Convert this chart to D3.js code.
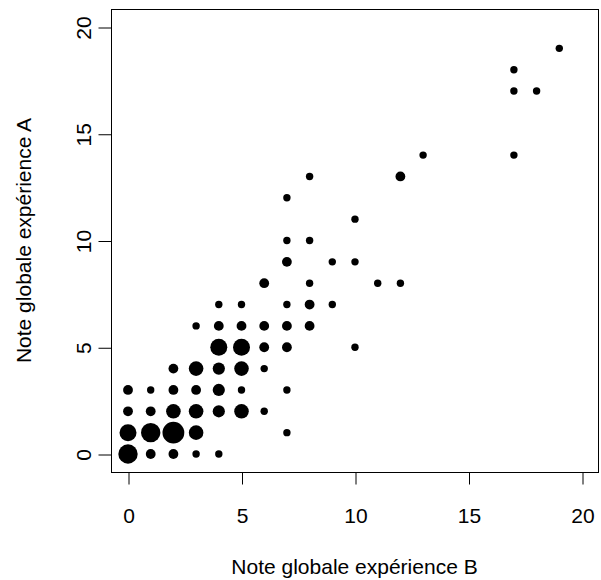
<!DOCTYPE html>
<html>
<head>
<meta charset="utf-8">
<script src="https://cdn.jsdelivr.net/npm/d3@7"></script>
<style>
html, body { margin: 0; padding: 0; background: #fff; }
svg { display: block; }
text { font-family: "Liberation Sans", Arial, sans-serif; fill: #000; }
</style>
</head>
<body>
<script>
// Data: grade pairs (B on x, A on y) and count of observations at each pair
const noteB = [0,1,2,3,4, 0,1,2,3,7, 0,1,2,3,4,5,6, 0,1,2,3,4,5,7, 2,3,4,5,6, 4,5,6,7,10,
               3,4,5,6,7,8, 4,5,7,8,9, 6,8,11,12, 7,9,10, 7,8, 10, 7, 8,12, 13,17, 17,18, 17, 19];
const noteA = [0,0,0,0,0, 1,1,1,1,1, 2,2,2,2,2,2,2, 3,3,3,3,3,3,3, 4,4,4,4,4, 5,5,5,5,5,
               6,6,6,6,6,6, 7,7,7,7,7, 8,8,8,8, 9,9,9, 10,10, 11, 12, 13,13, 14,14, 17,17, 18, 19];
const counts = [6,2,2,1,1, 5,6,7,4,1, 2,2,4,4,3,4,1, 2,1,2,2,3,1,1, 2,4,3,4,1, 5,5,2,2,1,
                1,2,2,2,2,2, 1,1,1,2,1, 2,1,1,1, 2,1,1, 1,1, 1, 1, 1,2, 1,1, 1,1, 1, 1];
const xTicks = [0,5,10,15,20];
const yTicks = [0,5,10,15,20];
const xTitle = "Note globale expérience B";
const yTitle = "Note globale expérience A";

const W = 601, H = 580;
const box = {left: 111, right: 598, top: 9, bottom: 472};
const FS = 21;

const svg = d3.select("body").append("svg").attr("width", W).attr("height", H);

const x = d3.scaleLinear().domain([0, 20]).range([128, 582]);
const y = d3.scaleLinear().domain([0, 20]).range([454, 27]);
const r = n => 2.5 + 1.2 * n;

// plot box
svg.append("rect")
  .attr("x", box.left + 0.5).attr("y", box.top + 0.5)
  .attr("width", box.right - box.left).attr("height", box.bottom - box.top)
  .attr("fill", "none").attr("stroke", "#000").attr("stroke-width", 1);

// x axis
const xAxis = d3.axisBottom(x).tickValues(xTicks).tickSize(12).tickFormat(d3.format("d"));
const gx = svg.append("g").attr("transform", `translate(0.5,${box.bottom + 0.5})`).call(xAxis);
gx.select(".domain").attr("stroke", "none");
gx.selectAll(".tick text")
  .attr("font-size", FS).attr("font-family", "Liberation Sans, Arial, sans-serif")
  .attr("y", 43).attr("dy", "0.35em");

// y axis
const yAxis = d3.axisLeft(y).tickValues(yTicks).tickSize(13).tickFormat(d3.format("d"));
const gy = svg.append("g").attr("transform", `translate(${box.left + 0.5},0.5)`).call(yAxis);
gy.select(".domain").attr("stroke", "none");
gy.selectAll(".tick text")
  .attr("font-size", FS).attr("font-family", "Liberation Sans, Arial, sans-serif")
  .attr("x", null).attr("dy", null)
  .attr("text-anchor", "middle")
  .attr("transform", "translate(-28,0) rotate(-90)")
  .attr("dy", "0.35em");

// points
const pts = noteB.map((b, i) => ({b, a: noteA[i], n: counts[i]}));
svg.append("g").selectAll("circle").data(pts).join("circle")
  .attr("cx", d => x(d.b)).attr("cy", d => y(d.a)).attr("r", d => r(d.n))
  .attr("fill", "#000");

// titles
svg.append("text").attr("x", (box.left + box.right) / 2).attr("y", 567).attr("dy", "0.35em")
  .attr("text-anchor", "middle").attr("font-size", FS).text(xTitle);
svg.append("text")
  .attr("transform", `translate(24,${(box.top + box.bottom) / 2}) rotate(-90)`)
  .attr("dy", "0.35em")
  .attr("text-anchor", "middle").attr("font-size", FS).text(yTitle);
</script>
</body>
</html>
